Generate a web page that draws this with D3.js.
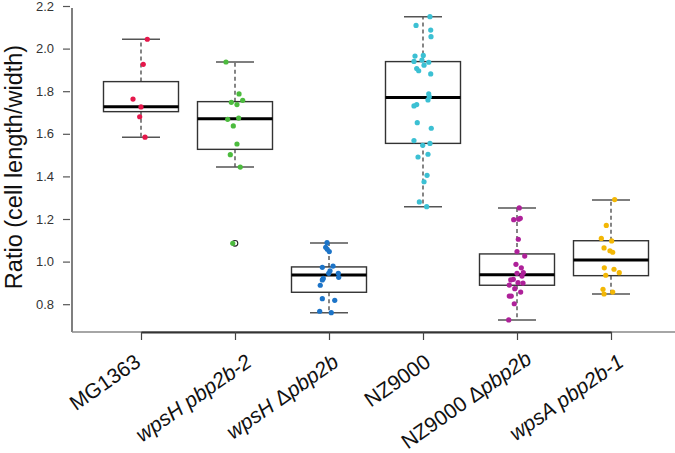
<!DOCTYPE html>
<html><head><meta charset="utf-8">
<script src="https://cdn.jsdelivr.net/npm/d3@7/dist/d3.min.js"></script>
<style>html,body{margin:0;padding:0;background:#fff;}svg{display:block;}</style>
</head><body>
<svg id="c" width="675" height="453"></svg>
<script>
const categories = ["MG1363","wpsH pbp2b-2","wpsH \u0394pbp2b","NZ9000","NZ9000 \u0394pbp2b","wpsA pbp2b-1"];
const yTicks = [0.8,1.0,1.2,1.4,1.6,1.8,2.0,2.2];
const yLabel = "Ratio (cell length/width)";

const valsMG1363 = [2.044,1.926,1.763,1.726,1.680,1.584];
const valsWpsH2 = [1.937,1.787,1.748,1.757,1.737,1.668,1.674,1.637,1.552,1.502,1.444,1.086];
const valsWpsHd = [1.089,1.067,1.058,1.047,0.973,0.979,0.957,0.945,0.945,0.926,0.921,0.914,0.889,0.826,0.818,0.767,0.760];
const valsNZ = [2.150,2.109,2.087,2.056,1.965,1.968,1.940,1.946,1.936,1.922,1.906,1.896,1.881,1.787,1.774,1.759,1.737,1.731,1.652,1.626,1.568,1.546,1.555,1.491,1.504,1.405,1.375,1.280,1.258];
const valsNZd = [1.252,1.197,1.199,1.203,1.105,1.047,1.026,0.987,0.971,0.945,0.948,0.932,0.917,0.914,0.901,0.899,0.890,0.873,0.857,0.838,0.838,0.802,0.726];
const valsWpsA = [1.291,1.170,1.109,1.097,1.064,1.051,1.044,0.971,0.964,0.948,0.936,0.870,0.857,0.848];

// horizontal jitter, in units of category spacing
const jitMG1363 = [0.067,0.024,-0.085,0,-0.014,0.043];
const jitWpsH2 = [-0.096,0.043,-0.039,0.082,0.021,-0.078,0.039,-0.018,0.021,-0.050,0.056,-0.024];
const jitWpsHd = [-0.021,-0.035,-0.018,0.003,-0.071,0.043,0.011,-0.003,0.099,0.103,-0.061,-0.071,-0.093,-0.071,0.061,-0.099,0.024];
const jitNZ = [0.074,-0.074,0.082,0.085,-0.085,0.003,-0.096,-0.011,0.061,0.011,-0.067,-0.046,0.082,0.061,0.067,0.053,-0.067,-0.096,-0.061,0.088,-0.096,-0.003,0.074,-0.053,0.053,0.043,0.011,-0.039,0.039];
const jitNZd = [0.024,-0.035,0.018,0.035,0.014,0,0.082,-0.011,0.046,0,0.067,0.053,-0.039,-0.067,0.011,0.064,-0.082,-0.024,0.039,-0.082,-0.061,-0.029,-0.088];
const jitWpsA = [0.039,-0.050,-0.103,0.007,-0.074,-0.011,0.018,-0.071,0.032,0.088,-0.056,-0.085,0.018,-0.074];

// box statistics
const whiskerLow  = [1.584,1.444,0.760,1.258,0.726,0.848];
const q1          = [1.704,1.527,0.856,1.555,0.889,0.934];
const median      = [1.727,1.671,0.937,1.771,0.938,1.008];
const q3          = [1.845,1.751,0.975,1.939,1.036,1.098];
const whiskerHigh = [2.044,1.937,1.087,2.150,1.252,1.289];
const outlierCat = ["wpsH pbp2b-2"];
const outlierVal = [1.086];

const colors = ["#e5184b","#4cbb3e","#1c74c8","#3cc0d3","#ae2199","#f3b705"];
const labelDx = [1,18,11,9,16,14];
const labelY = [365,365,365,365,362,365];

const allVals = [valsMG1363,valsWpsH2,valsWpsHd,valsNZ,valsNZd,valsWpsA];
const allJit = [jitMG1363,jitWpsH2,jitWpsHd,jitNZ,jitNZd,jitWpsA];

const svg = d3.select("#c");
const x = d3.scalePoint().domain(categories).range([141,611]);
const step = x.step();
const y = d3.scaleLinear().domain([0.8,2.2]).range([304.2,6]);

// frame lines
svg.append("line").attr("x1",72).attr("x2",72).attr("y1",8).attr("y2",332).attr("stroke","#555").attr("stroke-width",1.5);
svg.append("line").attr("x1",72).attr("x2",675).attr("y1",332).attr("y2",332).attr("stroke","#888").attr("stroke-width",1.5);

// y axis
const ya = svg.append("g").attr("transform","translate(70,0)")
  .call(d3.axisLeft(y).tickValues(yTicks).tickFormat(d3.format(".1f")).tickSize(7).tickPadding(9));
ya.select(".domain").remove();
ya.selectAll(".tick line").attr("stroke","#555").attr("stroke-width",1.2);
ya.selectAll(".tick text").attr("font-family","Liberation Sans, Arial, sans-serif").attr("font-size",13).attr("fill","#333");

// x axis
const xa = svg.append("g").attr("transform","translate(0,332)")
  .call(d3.axisBottom(x).tickSize(8).tickSizeOuter(0).tickFormat(""));
xa.select(".domain").attr("stroke","#333").attr("stroke-width",2);
xa.selectAll(".tick line").attr("stroke","#444").attr("stroke-width",1.2);

// y label
svg.append("text").attr("transform","translate(22,167) rotate(-90)")
  .attr("text-anchor","middle").attr("font-family","Liberation Sans, Arial, sans-serif")
  .attr("font-size",23.5).attr("fill","#111").text(yLabel);

// category labels with italic gene names
const partsByCat = {
  "MG1363":[["MG1363","normal"]],
  "wpsH pbp2b-2":[["wpsH pbp2b-2","italic"]],
  "wpsH \u0394pbp2b":[["wpsH ","italic"],["\u0394","normal"],["pbp2b","italic"]],
  "NZ9000":[["NZ9000","normal"]],
  "NZ9000 \u0394pbp2b":[["NZ9000 \u0394","normal"],["pbp2b","italic"]],
  "wpsA pbp2b-1":[["wpsA pbp2b-1","italic"]]
};
categories.forEach((c,i)=>{
  const t = svg.append("text")
    .attr("transform",`translate(${x(c)+labelDx[i]},${labelY[i]}) rotate(-35)`)
    .attr("text-anchor","end").attr("font-family","Liberation Sans, Arial, sans-serif")
    .attr("font-size",21).attr("fill","#111");
  partsByCat[c].forEach(p=>{ t.append("tspan").attr("font-style",p[1]).text(p[0]); });
});

// boxes
const bw = 75, cw = 38;
categories.forEach((c,i)=>{
  const cx = x(c);
  const g = svg.append("g");
  g.append("line").attr("x1",cx).attr("x2",cx).attr("y1",y(q3[i])).attr("y2",y(whiskerHigh[i]))
    .attr("stroke","#444").attr("stroke-width",1.3).attr("stroke-dasharray","4,3");
  g.append("line").attr("x1",cx).attr("x2",cx).attr("y1",y(q1[i])).attr("y2",y(whiskerLow[i]))
    .attr("stroke","#444").attr("stroke-width",1.3).attr("stroke-dasharray","4,3");
  [whiskerHigh[i],whiskerLow[i]].forEach(v=>{
    g.append("line").attr("x1",cx-cw/2).attr("x2",cx+cw/2).attr("y1",y(v)).attr("y2",y(v))
      .attr("stroke","#555").attr("stroke-width",1.5);
  });
  g.append("rect").attr("x",cx-bw/2).attr("width",bw).attr("y",y(q3[i])).attr("height",y(q1[i])-y(q3[i]))
    .attr("fill","none").attr("stroke","#333").attr("stroke-width",1.4);
  g.append("line").attr("x1",cx-bw/2).attr("x2",cx+bw/2).attr("y1",y(median[i])).attr("y2",y(median[i]))
    .attr("stroke","#000").attr("stroke-width",3);
});

// outliers
outlierCat.forEach((c,i)=>{
  svg.append("circle").attr("cx",x(c)).attr("cy",y(outlierVal[i])).attr("r",2.8)
    .attr("fill","none").attr("stroke","#222").attr("stroke-width",1.1);
});

// points
categories.forEach((c,i)=>{
  svg.append("g").selectAll("circle").data(allVals[i]).join("circle")
    .attr("cx",(d,j)=>x(c)+allJit[i][j]*step)
    .attr("cy",d=>y(d)).attr("r",2.6).attr("fill",colors[i]);
});
</script>
</body></html>
